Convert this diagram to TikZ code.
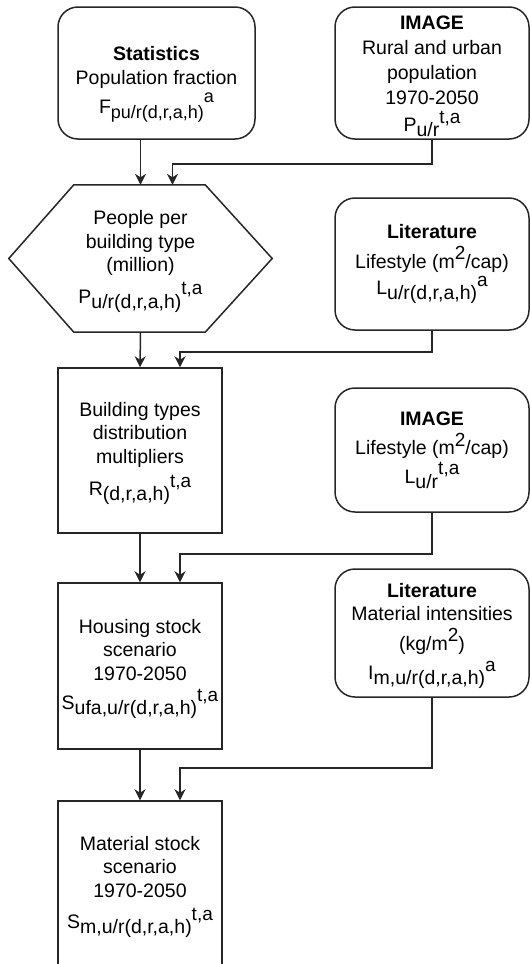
\documentclass[tikz,border=0pt]{standalone}
\usepackage{fontspec}
\setmainfont{Liberation Sans}
\usetikzlibrary{arrows.meta,calc}
\newcommand{\subx}[2][19.5]{\raisebox{-0.26em}{\fontsize{#1}{#1}\selectfont #2}}
\newcommand{\supx}[3][0.42em]{\raisebox{#1}{\fontsize{#2}{#2}\selectfont #3}}
\newcommand{\tfix}{\rule{0pt}{20pt}}
\begin{document}
\begin{tikzpicture}[x=1pt,y=-1pt,
  txt/.style={font=\fontsize{19.5}{23.4}\selectfont, align=center, inner sep=0pt, text=black},
  srcbox/.style={txt, draw=black!85, line width=1.5pt, rounded corners=20pt, minimum width=194pt},
  procbox/.style={txt, draw=black!85, line width=1.5pt, minimum width=164pt},
  arr/.style={draw=black!85, line width=1.5pt, -{Stealth[length=11pt,width=11pt,inset=3.5pt]}}]
\useasboundingbox (0,0) rectangle (530,964);

\node[srcbox, minimum width=197pt, minimum height=132pt] (stat) at (156.5,73) {};
\node[txt] (statt) at (156.5,84.5)
  {\textbf{Statistics}\\Population fraction\\[6pt]F\subx[18]{pu/r(d,r,a,h)}\smash{\supx[0.55em]{18}{a}}};
\node[srcbox, minimum height=132pt, font=\fontsize{19.5}{25}\selectfont] (img1) at (432,73)
  {\tfix\textbf{IMAGE}\\Rural and urban\\population\\1970-2050\\[2pt]P\subx{u/r}\supx{19}{t,a}};

\node[txt, minimum width=263pt, minimum height=147pt] (hex) at (140.5,258.5)
  {\tfix People per\\building type\\(million)\\[6pt]P\subx{u/r(d,r,a,h)}\supx{19}{t,a}};
\draw[draw=black!85, line width=1.5pt, line join=miter]
  ($(hex.north west)+(65,0)$) -- ($(hex.north east)+(-67,0)$) -- (hex.east)
  -- ($(hex.south east)+(-67,0)$) -- ($(hex.south west)+(65,0)$) -- (hex.west) -- cycle;

\node[srcbox, minimum height=132pt] (lit1) at (432,264)
  {\textbf{Literature}\\[6pt]Lifestyle (m\supx{19}{2}/cap)\\[3pt]L\subx{u/r(d,r,a,h)}\supx{19}{a}};

\node[procbox, minimum height=165pt] (bt) at (140,450.5)
  {\tfix Building types\\distribution\\multipliers\\[7pt]R\subx{(d,r,a,h)}\supx{19}{t,a}};
\node[srcbox, minimum height=124pt] (img2) at (432,450)
  {\textbf{IMAGE}\\[6pt]Lifestyle (m\supx{19}{2}/cap)\\[3pt]L\subx{u/r}\supx{19}{t,a}};

\node[procbox, minimum height=166pt] (hs) at (140,666)
  {\tfix Housing stock\\scenario\\1970-2050\\[6pt]S\subx{ufa,u/r(d,r,a,h)}\supx{19}{t,a}};
\node[srcbox, minimum height=128pt] (lit2) at (432,633)
  {\tfix\textbf{Literature}\\Material intensities\\[6pt](kg/m\supx{19}{2})\\[6pt]I\subx{m,u/r(d,r,a,h)}\supx{19}{a}};

\node[procbox, minimum height=166pt] (ms) at (140,884)
  {\tfix Material stock\\scenario\\1970-2050\\[8pt]S\subx{m,u/r(d,r,a,h)}\supx{19}{t,a}};

% connectors
\draw[arr] (stat.south -| hex.north) -- (hex.north);
\draw[arr] (img1.south) -- ++(0,24) -| ([xshift=32pt]hex.north);
\draw[arr] (hex.south) -- (bt.north);
\draw[arr] (lit1.south) -- ++(0,21) -| ([xshift=40pt]bt.north);
\draw[arr] (bt.south) -- (hs.north);
\draw[arr] (img2.south) -- ++(0,41) -| ([xshift=40pt]hs.north);
\draw[arr] (hs.south) -- (ms.north);
\draw[arr] (lit2.south) -- ++(0,70) -| ([xshift=40pt]ms.north);
\end{tikzpicture}
\end{document}
